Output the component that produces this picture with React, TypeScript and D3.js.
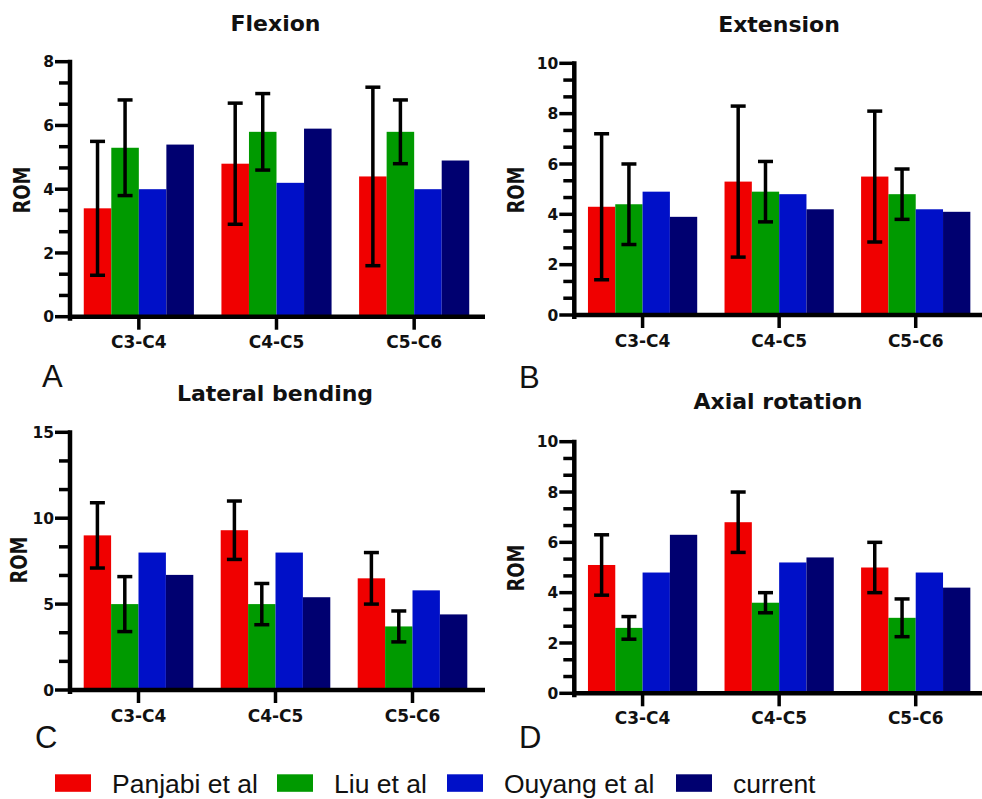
import React from "react";
import * as d3 from "d3";

const categories = ["C3-C4", "C4-C5", "C5-C6"];
const seriesNames = ["Panjabi et al", "Liu et al", "Ouyang et al", "current"];
const seriesColors = ["#f00000", "#009a00", "#0010c8", "#000070"];

// [series][category]
const flexionMean = [[3.4, 4.8, 4.4], [5.3, 5.8, 5.8], [4.0, 4.2, 4.0], [5.4, 5.9, 4.9]];
const flexionSD = [[2.1, 1.9, 2.8], [1.5, 1.2, 1.0], null, null];

const extensionMean = [[4.3, 5.3, 5.5], [4.4, 4.9, 4.8], [4.9, 4.8, 4.2], [3.9, 4.2, 4.1]];
const extensionSD = [[2.9, 3.0, 2.6], [1.6, 1.2, 1.0], null, null];

const lateralMean = [[9.0, 9.3, 6.5], [5.0, 5.0, 3.7], [8.0, 8.0, 5.8], [6.7, 5.4, 4.4]];
const lateralSD = [[1.9, 1.7, 1.5], [1.6, 1.2, 0.9], null, null];

const axialMean = [[5.1, 6.8, 5.0], [2.6, 3.6, 3.0], [4.8, 5.2, 4.8], [6.3, 5.4, 4.2]];
const axialSD = [[1.2, 1.2, 1.0], [0.45, 0.4, 0.75], null, null];

const flexionTicks = [0, 2, 4, 6, 8];
const extensionTicks = [0, 2, 4, 6, 8, 10];
const lateralTicks = [0, 5, 10, 15];
const axialTicks = [0, 2, 4, 6, 8, 10];

const BOLD = "'DejaVu Sans', sans-serif";
const PLAIN = "'Liberation Sans', Arial, sans-serif";

type PanelProps = {
  title: string;
  letter: string;
  mean: number[][];
  sd: (number[] | null)[];
  ticks: number[];
  ax: number;
  y0: number;
  yTop: number;
  xEnd: number;
  lineEnd: number;
  titleX: number;
  titleY: number;
  catY: number;
  romX: number;
  romY: number;
  letterX: number;
  letterY: number;
};

function Panel(p: PanelProps) {
  const maxV = p.ticks[p.ticks.length - 1];
  const y = d3.scaleLinear().domain([0, maxV]).range([p.y0, p.yTop]);
  const xg = d3.scaleBand<string>().domain(categories).range([p.ax, p.xEnd]).paddingInner(0.2).paddingOuter(0.1);
  const xs = d3.scaleBand<number>().domain(d3.range(seriesNames.length)).range([0, xg.bandwidth()]);
  const minor: number[] = [];
  for (let i = 0; i < p.ticks.length - 1; i++) {
    const a = p.ticks[i], b = p.ticks[i + 1];
    for (let k = 1; k < 3; k++) minor.push(a + ((b - a) * k) / 3);
  }
  const capW = 15;
  return (
    <g>
      <text x={p.titleX} y={p.titleY} textAnchor="middle" fontFamily={BOLD} fontWeight="bold" fontSize={22} fill="#111">
        {p.title}
      </text>
      {/* bars */}
      {p.mean.map((row, si) =>
        row.map((v, ci) => (
          <rect
            key={`b${si}-${ci}`}
            x={(xg(categories[ci]) as number) + (xs(si) as number)}
            y={y(v)}
            width={xs.bandwidth()}
            height={p.y0 - y(v)}
            fill={seriesColors[si]}
          />
        ))
      )}
      {/* error bars */}
      {p.sd.map((row, si) =>
        row
          ? row.map((s, ci) => {
              const cx = (xg(categories[ci]) as number) + (xs(si) as number) + xs.bandwidth() / 2;
              const m = p.mean[si][ci];
              const yl = y(m - s), yh = y(m + s);
              return (
                <g key={`e${si}-${ci}`} stroke="#000" strokeWidth={3.5}>
                  <line x1={cx} x2={cx} y1={yl} y2={yh} />
                  <line x1={cx - capW / 2} x2={cx + capW / 2} y1={yh} y2={yh} />
                  <line x1={cx - capW / 2} x2={cx + capW / 2} y1={yl} y2={yl} />
                </g>
              );
            })
          : null
      )}
      {/* y axis */}
      <line x1={p.ax} x2={p.ax} y1={p.yTop - 2} y2={p.y0 + 4} stroke="#000" strokeWidth={4.5} />
      {minor.map((t, i) => (
        <line key={`mn${i}`} x1={p.ax - 11} x2={p.ax} y1={y(t)} y2={y(t)} stroke="#000" strokeWidth={3.5} />
      ))}
      {p.ticks.map((t) => (
        <g key={`mj${t}`}>
          <line x1={p.ax - 15} x2={p.ax} y1={y(t)} y2={y(t)} stroke="#000" strokeWidth={3.5} />
          <text x={p.ax - 16} y={y(t)} dy="0.36em" textAnchor="end" fontFamily={BOLD} fontWeight="bold" fontSize={15.5} fill="#111">
            {t}
          </text>
        </g>
      ))}
      {/* x axis */}
      <line x1={p.ax} x2={p.lineEnd} y1={p.y0} y2={p.y0} stroke="#000" strokeWidth={4.5} />
      {categories.map((c) => {
        const cx = (xg(c) as number) + xg.bandwidth() / 2;
        return (
          <g key={`c${c}`}>
            <line x1={cx} x2={cx} y1={p.y0} y2={p.y0 + 13} stroke="#000" strokeWidth={3.5} />
            <text x={cx} y={p.catY} textAnchor="middle" fontFamily={BOLD} fontWeight="bold" fontSize={17} fill="#111">
              {c}
            </text>
          </g>
        );
      })}
      <text
        transform={`translate(${p.romX},${p.romY}) rotate(-90) scale(1,1.25)`}
        textAnchor="middle"
        fontFamily={BOLD}
        fontWeight="bold"
        fontSize={18}
        fill="#111"
      >
        ROM
      </text>
      <text x={p.letterX} y={p.letterY} fontFamily={PLAIN} fontSize={31} fill="#111">
        {p.letter}
      </text>
    </g>
  );
}

const legendX = [55, 277, 447, 676];

export default function App() {
  return (
    <svg width={982} height={799} style={{ position: "absolute", left: 0, top: 0, background: "#fff" }}>
      <rect width={982} height={799} fill="#fff" />
      <Panel title="Flexion" letter="A" mean={flexionMean} sd={flexionSD} ticks={flexionTicks}
        ax={70} y0={316.7} yTop={61.7} xEnd={483} lineEnd={485}
        titleX={275.5} titleY={31} catY={348.3} romX={30} romY={190} letterX={42} letterY={387} />
      <Panel title="Extension" letter="B" mean={extensionMean} sd={extensionSD} ticks={extensionTicks}
        ax={574.3} y0={315} yTop={63.3} xEnd={984} lineEnd={982}
        titleX={779} titleY={32} catY={346.7} romX={524} romY={190} letterX={519} letterY={388} />
      <Panel title="Lateral bending" letter="C" mean={lateralMean} sd={lateralSD} ticks={lateralTicks}
        ax={70} y0={690} yTop={432.3} xEnd={481} lineEnd={485}
        titleX={275} titleY={401} catY={721.7} romX={27} romY={560} letterX={35} letterY={748} />
      <Panel title="Axial rotation" letter="D" mean={axialMean} sd={axialSD} ticks={axialTicks}
        ax={574.3} y0={693.3} yTop={441.7} xEnd={984} lineEnd={982}
        titleX={778} titleY={409} catY={724} romX={524} romY={568} letterX={519} letterY={748} />
      {seriesNames.map((n, i) => (
        <g key={n}>
          <rect x={legendX[i]} y={774.3} width={36} height={17.5} fill={seriesColors[i]} />
          <text x={legendX[i] + 57} y={793} fontFamily={PLAIN} fontSize={26.5} fill="#111">
            {n}
          </text>
        </g>
      ))}
    </svg>
  );
}
